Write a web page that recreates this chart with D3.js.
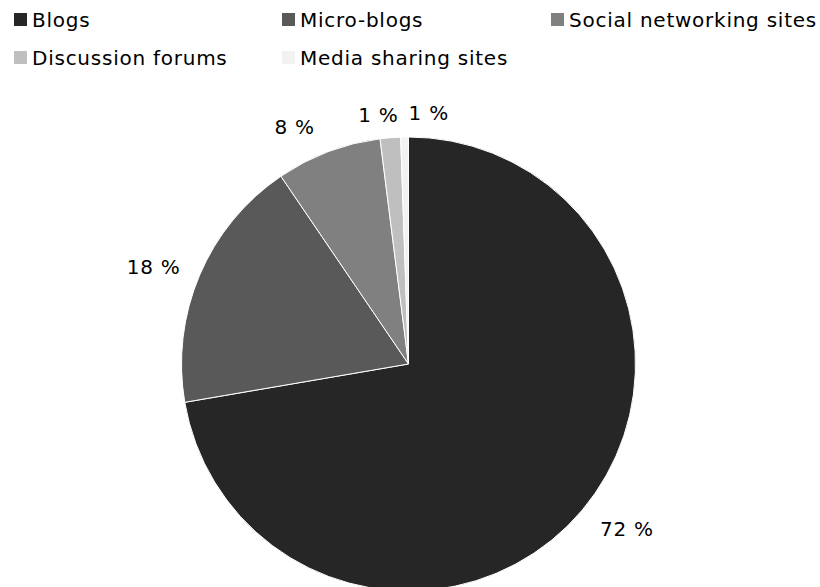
<!DOCTYPE html>
<html>
<head>
<meta charset="utf-8">
<script src="https://cdn.jsdelivr.net/npm/d3@7"></script>
<style>
  html, body { margin: 0; padding: 0; background: #fff; }
  svg { display: block; }
  text { font-family: "DejaVu Sans", Verdana, sans-serif; }
</style>
</head>
<body>
<svg id="chart" width="820" height="587"></svg>
<script>
// ---- data ----
const categories = ["Blogs", "Micro-blogs", "Social networking sites", "Discussion forums", "Media sharing sites"];
const shares = [72.3, 18.2, 7.5, 1.45, 0.55];
const colors = ["#262626", "#595959", "#808080", "#bfbfbf", "#f2f2f2"];

// ---- layout ----
const W = 820, H = 587;
const cx = 408.5, cy = 364, R = 227;
const fontSize = 20, letterSpacing = 0.75;
// label placement nudges emulating the reference's best-fit labels
const labelNudgeDeg = [-3, -2.1, -5, -2.3, 5.6];
const labelNudgePx = [1, -2, 0, -6, -4];

const svg = d3.select("#chart");

// legend
const legendCols = [14, 282, 551];
const legendRowY = [13, 51];
const sq = 13;
const legend = svg.append("g");
categories.forEach((c, i) => {
  const col = i % 3, row = Math.floor(i / 3);
  const g = legend.append("g").attr("transform", `translate(${legendCols[col]},${legendRowY[row]})`);
  g.append("rect").attr("width", sq).attr("height", sq).attr("fill", colors[i]);
  g.append("text").attr("x", 18).attr("y", 13.5)
    .attr("font-size", fontSize).attr("letter-spacing", letterSpacing)
    .attr("fill", "#000").text(c);
});

// pie
const pie = d3.pie().sort(null).value(d => d)
  .startAngle(0).endAngle(2 * Math.PI);
const arcs = pie(shares);
const arc = d3.arc().innerRadius(0).outerRadius(R);

const g = svg.append("g").attr("transform", `translate(${cx},${cy})`);
g.selectAll("path").data(arcs).join("path")
  .attr("d", arc)
  .attr("fill", (d, i) => colors[i])
  .attr("stroke", "#fff").attr("stroke-width", 1);

// labels
const labels = arcs.map((d, i) => ({
  text: Math.round(shares[i]) + " %",
  ang: (d.startAngle + d.endAngle) / 2 + labelNudgeDeg[i] * Math.PI / 180,
  extra: labelNudgePx[i]
}));
const tmp = g.append("text").attr("font-size", fontSize).attr("letter-spacing", letterSpacing);
labels.forEach(l => { tmp.text(l.text); const b = tmp.node().getBBox(); l.w = b.width; l.h = 15; });
tmp.remove();

const gap = 20;
function dist(l) {
  return R + gap + l.extra + Math.abs(Math.sin(l.ang)) * l.w / 2 + Math.abs(Math.cos(l.ang)) * l.h / 2;
}
labels.forEach(l => {
  const r = dist(l);
  l.x = Math.sin(l.ang) * r;
  l.y = -Math.cos(l.ang) * r;
});
g.selectAll("text.lbl").data(labels).join("text")
  .attr("class", "lbl")
  .attr("x", d => d.x).attr("y", d => d.y + 7)
  .attr("text-anchor", "middle")
  .attr("font-size", fontSize).attr("letter-spacing", letterSpacing)
  .attr("fill", "#000")
  .text(d => d.text);
</script>
</body>
</html>
